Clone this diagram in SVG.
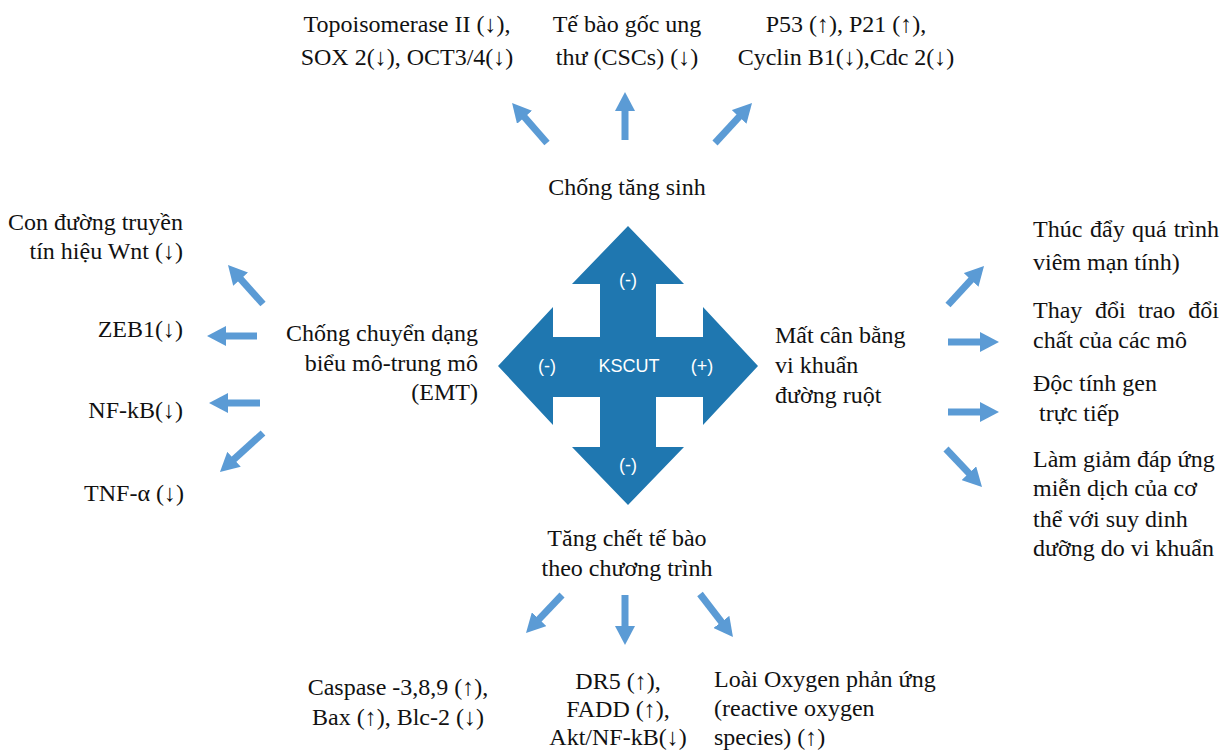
<svg xmlns="http://www.w3.org/2000/svg" width="1231" height="751" viewBox="0 0 1231 751">
  <defs>
    <style>
      .t { font-family: "Liberation Serif", "Times New Roman", serif; font-size: 24px; fill: #111; }
      .m { text-anchor: middle; }
      .e { text-anchor: end; }
      .k { font-family: "Liberation Sans", Arial, sans-serif; font-size: 18px; fill: #ffffff; text-anchor: middle; }
      .arr { stroke: #5b9bd5; stroke-width: 7; fill: none; marker-end: url(#head); }
    </style>
    <marker id="head" markerUnits="userSpaceOnUse" markerWidth="19" markerHeight="20" viewBox="0 0 19 20" refX="1" refY="10" orient="auto">
      <path d="M0,0 L19,10 L0,20 Z" fill="#5b9bd5"/>
    </marker>
  </defs>
  <rect width="1231" height="751" fill="#ffffff"/>

  <!-- central four-way arrow -->
  <g id="kscut">
    <path fill="#1f77b0" d="M628,226 L684,284 L656,284 L656,337 L703,337 L703,307 L758,366 L703,425 L703,397 L656,397 L656,447 L684,447 L628,505 L572,447 L600,447 L600,397 L553,397 L553,425 L498,366 L553,307 L553,337 L600,337 L600,284 L572,284 Z"/>
    <text class="k" x="628" y="286">(-)</text>
    <text class="k" x="547" y="372">(-)</text>
    <text class="k" x="629" y="372">KSCUT</text>
    <text class="k" x="702" y="372">(+)</text>
    <text class="k" x="628" y="471">(-)</text>
  </g>

  <!-- top branch -->
  <g id="anti-proliferation">
    <text class="t m" x="627" y="195">Chống tăng sinh</text>
  </g>
  <g id="topoisomerase">
    <text class="t m" x="407" y="32">Topoisomerase II  (↓),</text>
    <text class="t m" x="407" y="65">SOX 2(↓), OCT3/4(↓)</text>
  </g>
  <g id="cscs">
    <text class="t m" x="627" y="32">Tế bào gốc ung</text>
    <text class="t m" x="627" y="65">thư (CSCs) (↓)</text>
  </g>
  <g id="p53">
    <text class="t m" x="846" y="32">P53 (↑), P21 (↑),</text>
    <text class="t m" x="846" y="65">Cyclin B1(↓),Cdc 2(↓)</text>
  </g>

  <!-- left branch -->
  <g id="emt">
    <text class="t e" x="478" y="341">Chống chuyển dạng</text>
    <text class="t e" x="478" y="371">biểu mô-trung mô</text>
    <text class="t e" x="478" y="400">(EMT)</text>
  </g>
  <g id="wnt">
    <text class="t e" x="183" y="230">Con đường truyền</text>
    <text class="t e" x="183" y="259">tín hiệu Wnt (↓)</text>
  </g>
  <g id="zeb1"><text class="t e" x="183" y="337">ZEB1(↓)</text></g>
  <g id="nfkb"><text class="t e" x="183" y="418">NF-kB(↓)</text></g>
  <g id="tnf"><text class="t e" x="184" y="501">TNF-α (↓)</text></g>

  <!-- right branch -->
  <g id="dysbiosis">
    <text class="t" x="775" y="343">Mất cân bằng</text>
    <text class="t" x="775" y="373">vi khuẩn</text>
    <text class="t" x="775" y="403">đường ruột</text>
  </g>
  <g id="inflammation">
    <text class="t" y="237"><tspan x="1033">Thúc</tspan><tspan x="1090">đẩy</tspan><tspan x="1132">quá</tspan><tspan x="1219" text-anchor="end">trình</tspan></text>
    <text class="t" x="1033" y="270">viêm mạn tính)</text>
  </g>
  <g id="metabolism">
    <text class="t" y="318"><tspan x="1033">Thay</tspan><tspan x="1095">đổi</tspan><tspan x="1138">trao</tspan><tspan x="1219" text-anchor="end">đổi</tspan></text>
    <text class="t" x="1033" y="348">chất của các mô</text>
  </g>
  <g id="genotoxicity">
    <text class="t" x="1033" y="391">Độc tính gen</text>
    <text class="t" x="1039" y="421">trực tiếp</text>
  </g>
  <g id="immunity">
    <text class="t" x="1033" y="467">Làm giảm đáp ứng</text>
    <text class="t" x="1033" y="496">miễn dịch của cơ</text>
    <text class="t" x="1033" y="527">thể với suy dinh</text>
    <text class="t" x="1033" y="556">dưỡng do vi khuẩn</text>
  </g>

  <!-- bottom branch -->
  <g id="apoptosis">
    <text class="t m" x="627" y="546">Tăng chết tế bào</text>
    <text class="t m" x="627" y="576">theo chương trình</text>
  </g>
  <g id="caspase">
    <text class="t m" x="398" y="695">Caspase -3,8,9 (↑),</text>
    <text class="t m" x="398" y="725">Bax (↑), Blc-2 (↓)</text>
  </g>
  <g id="dr5">
    <text class="t m" x="618" y="689">DR5 (↑),</text>
    <text class="t m" x="618" y="717">FADD (↑),</text>
    <text class="t m" x="618" y="745">Akt/NF-kB(↓)</text>
  </g>
  <g id="ros">
    <text class="t" x="714" y="687">Loài Oxygen phản ứng</text>
    <text class="t" x="714" y="716">(reactive oxygen</text>
    <text class="t" x="714" y="745">species) (↑)</text>
  </g>

  <!-- connectors -->
  <g id="connectors">
    <line class="arr" x1="547" y1="143" x2="523.9" y2="116.5"/>
    <line class="arr" x1="625" y1="140" x2="625" y2="110"/>
    <line class="arr" x1="715" y1="143" x2="739.8" y2="116.2"/>
    <line class="arr" x1="263" y1="304" x2="240" y2="278.4"/>
    <line class="arr" x1="257" y1="336" x2="225" y2="336"/>
    <line class="arr" x1="260" y1="403" x2="227" y2="403"/>
    <line class="arr" x1="263" y1="433" x2="233.3" y2="459.9"/>
    <line class="arr" x1="948" y1="305" x2="971.8" y2="279.2"/>
    <line class="arr" x1="948" y1="342" x2="981" y2="342"/>
    <line class="arr" x1="948" y1="412" x2="981" y2="412"/>
    <line class="arr" x1="946" y1="449" x2="969.6" y2="473.9"/>
    <line class="arr" x1="562" y1="595" x2="538.4" y2="619.9"/>
    <line class="arr" x1="625" y1="595" x2="625" y2="627"/>
    <line class="arr" x1="700" y1="594" x2="722" y2="622.7"/>
  </g>
</svg>
